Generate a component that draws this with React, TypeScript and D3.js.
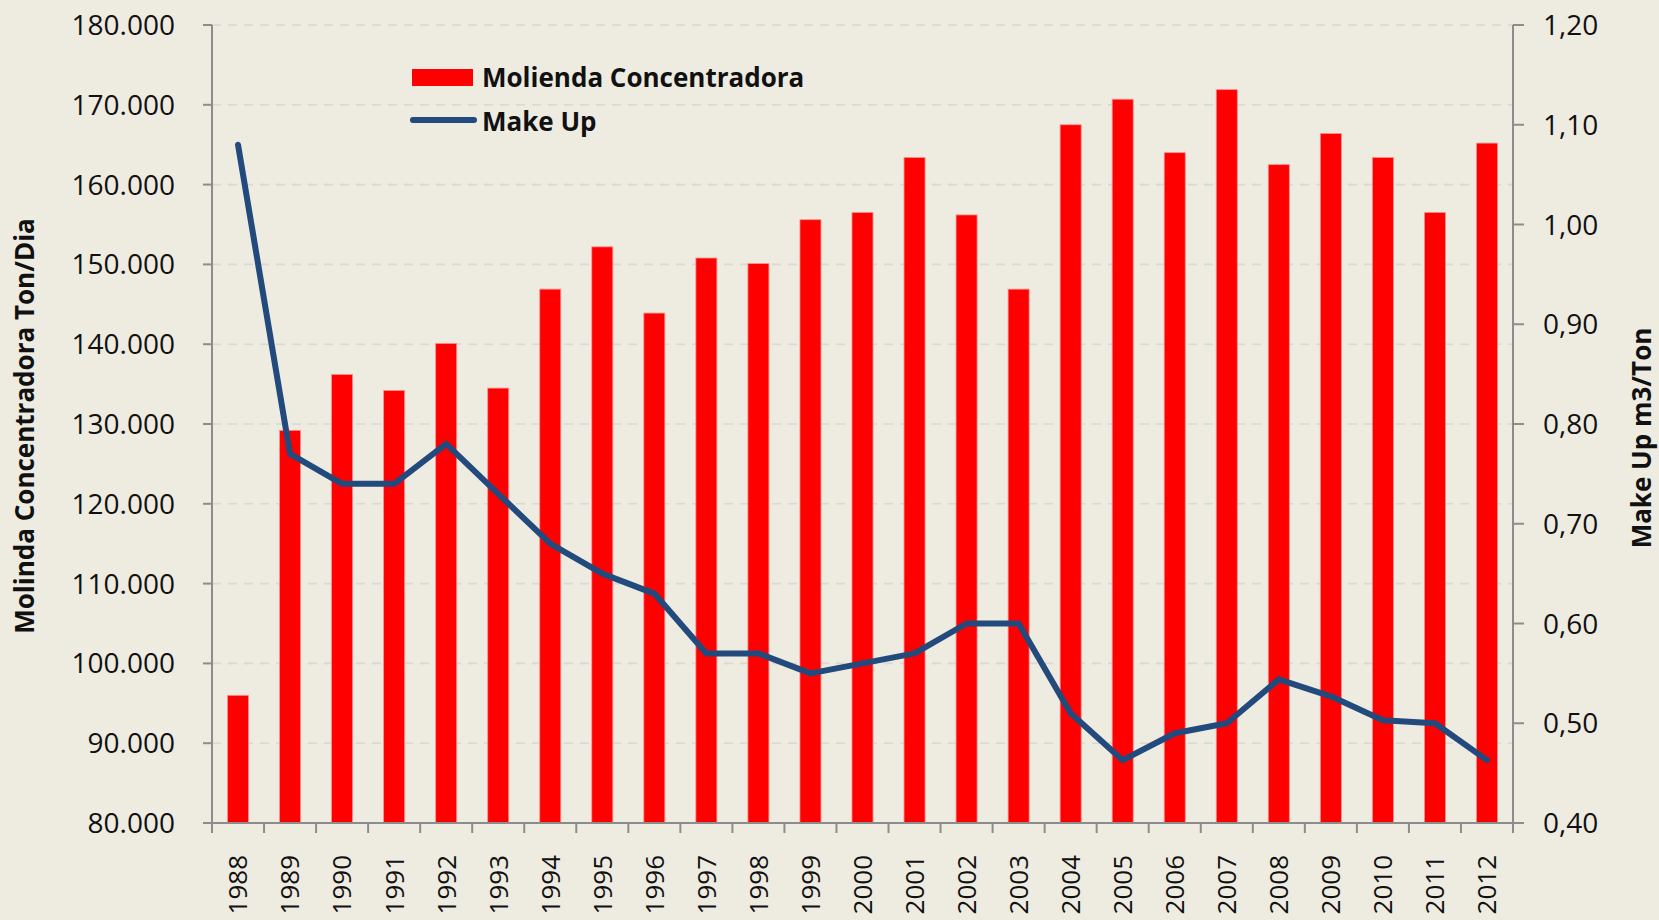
import React from 'react';
import * as d3 from 'd3';

// years on the category axis
const years = [
  '1988', '1989', '1990', '1991', '1992', '1993', '1994', '1995', '1996', '1997',
  '1998', '1999', '2000', '2001', '2002', '2003', '2004', '2005', '2006', '2007',
  '2008', '2009', '2010', '2011', '2012',
];

// Molienda Concentradora, Ton/Dia
const molienda = [
  96000, 129200, 136200, 134200, 140100, 134500, 146900, 152200, 143900, 150800,
  150100, 155600, 156500, 163400, 156200, 146900, 167500, 170700, 164000, 171900,
  162500, 166400, 163400, 156500, 165200,
];

// Make Up, m3/Ton
const makeUp = [
  1.08, 0.77, 0.74, 0.74, 0.78, 0.73, 0.68, 0.65, 0.63, 0.57,
  0.57, 0.55, 0.56, 0.57, 0.60, 0.60, 0.51, 0.463, 0.49, 0.50,
  0.544, 0.527, 0.503, 0.50, 0.463,
];

const leftTicks = [80000, 90000, 100000, 110000, 120000, 130000, 140000, 150000, 160000, 170000, 180000];
const rightTicks = [0.4, 0.5, 0.6, 0.7, 0.8, 0.9, 1.0, 1.1, 1.2];

const W = 1659, H = 920;
const left = 212, right = 1513, top = 25, bottom = 823;
const font = "'Open Sans', 'Noto Sans', sans-serif";
const axisColor = '#8c8c8c';

const App = () => {
  const x = d3.scaleBand().domain(years).range([left, right]).paddingInner(0.596).paddingOuter(0.298);
  const step = (right - left) / years.length;
  const y = d3.scaleLinear().domain([80000, 180000]).range([bottom, top]);
  const y2 = d3.scaleLinear().domain([0.4, 1.2]).range([bottom, top]);

  const fmtLeft = (v) => d3.format(',')(v).replace(/,/g, '.');
  const fmtRight = (v) => d3.format('.2f')(v).replace('.', ',');

  const line = d3.line()
    .x((d, i) => x(years[i]) + x.bandwidth() / 2)
    .y((d) => y2(d));

  return (
    <svg width={W} height={H} style={{ position: 'absolute', left: 0, top: 0, display: 'block' }} fontFamily={font}>
      <rect x={0} y={0} width={W} height={H} fill="#eeebe1" />

      {/* grid */}
      {leftTicks.slice(1).map((t) => (
        <line key={'g' + t} x1={left} x2={right} y1={y(t)} y2={y(t)} stroke="#d9d8d6" strokeWidth={1.6} strokeDasharray="9,7" />
      ))}

      {/* bars */}
      {molienda.map((v, i) => (
        <rect key={'b' + i} x={x(years[i])} y={y(v)} width={x.bandwidth()} height={bottom - y(v)}
          fill="#ff0000" stroke="#ff8f8f" strokeWidth={0.8} />
      ))}

      {/* make up line */}
      <path d={line(makeUp)} fill="none" stroke="#234a7c" strokeWidth={6} strokeLinejoin="round" strokeLinecap="round" />

      {/* left axis */}
      <line x1={left} x2={left} y1={top} y2={bottom} stroke={axisColor} strokeWidth={2} />
      {leftTicks.map((t) => (
        <g key={'l' + t}>
          <line x1={left - 9} x2={left} y1={y(t)} y2={y(t)} stroke={axisColor} strokeWidth={2} />
          <text x={175} y={y(t)} dy="0.36em" textAnchor="end" fontSize={28} fill="#111">{fmtLeft(t)}</text>
        </g>
      ))}

      {/* right axis */}
      <line x1={right} x2={right} y1={top} y2={bottom} stroke={axisColor} strokeWidth={2} />
      {rightTicks.map((t) => (
        <g key={'r' + t}>
          <line x1={right} x2={right + 11} y1={y2(t)} y2={y2(t)} stroke={axisColor} strokeWidth={2} />
          <text x={1543} y={y2(t)} dy="0.36em" textAnchor="start" fontSize={28} fill="#111">{fmtRight(t)}</text>
        </g>
      ))}

      {/* bottom axis */}
      <line x1={left - 9} x2={right} y1={bottom} y2={bottom} stroke={axisColor} strokeWidth={2} />
      {d3.range(years.length + 1).map((i) => (
        <line key={'t' + i} x1={left + i * step} x2={left + i * step} y1={bottom} y2={bottom + 10} stroke={axisColor} strokeWidth={2} />
      ))}
      {years.map((yr) => (
        <text key={'x' + yr} transform={`translate(${x(yr) + x.bandwidth() / 2},855) rotate(-90)`}
          dy="0.36em" textAnchor="end" fontSize={26} fill="#111">{yr}</text>
      ))}

      {/* axis titles */}
      <text transform="translate(25,426) rotate(-90)" dy="0.36em" textAnchor="middle" fontSize={26} fontWeight={700} fill="#111">
        Molinda Concentradora Ton/Dia
      </text>
      <text transform="translate(1642,438) rotate(-90)" dy="0.36em" textAnchor="middle" fontSize={26} fontWeight={700} fill="#111">
        Make Up m3/Ton
      </text>

      {/* legend */}
      <rect x={412} y={69} width={61} height={17} fill="#ff0000" />
      <text x={482} y={87} fontSize={26} fontWeight={700} fill="#111">Molienda Concentradora</text>
      <line x1={413} x2={474} y1={120} y2={120} stroke="#234a7c" strokeWidth={6} strokeLinecap="round" />
      <text x={482} y={131} fontSize={26} fontWeight={700} fill="#111">Make Up</text>
    </svg>
  );
};

export default App;
